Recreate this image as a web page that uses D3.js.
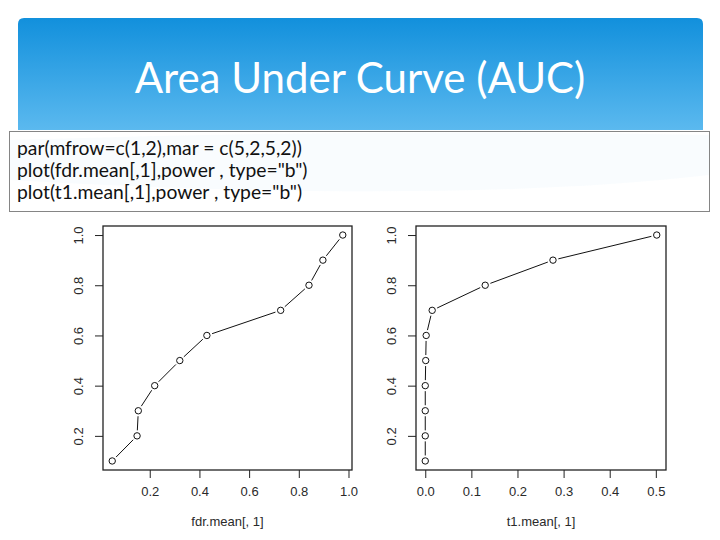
<!DOCTYPE html>
<html>
<head>
<meta charset="UTF-8">
<script src="https://d3js.org/d3.v7.min.js"></script>
<style>
  body { margin: 0; padding: 0; background: #fff; }
</style>
</head>
<body>
<script>
  // data
  const power = [0.1, 0.2, 0.3, 0.4, 0.5, 0.6, 0.7, 0.8, 0.9, 1.0]
  const fdrMean = [0.049, 0.149, 0.154, 0.220, 0.321, 0.430, 0.727, 0.841, 0.897, 0.977]
  const t1Mean = [0.000, 0.000, 0.000, 0.000, 0.001, 0.002, 0.015, 0.130, 0.277, 0.502]
  const yTicks = [0.2, 0.4, 0.6, 0.8, 1.0]
  const fdrTicks = [0.2, 0.4, 0.6, 0.8, 1.0]
  const t1Ticks = [0.0, 0.1, 0.2, 0.3, 0.4, 0.5]
  const codeLines = [
    'par(mfrow=c(1,2),mar = c(5,2,5,2))',
    'plot(fdr.mean[,1],power , type="b")',
    'plot(t1.mean[,1],power , type="b")'
  ]

  const width = 720
  const height = 540

  const svg = d3.select("body").append("svg")
    .attr("width", width)
    .attr("height", height)

  const defs = svg.append("defs")
  const grad = defs.append("linearGradient")
    .attr("id", "banner")
    .attr("x1", 0).attr("y1", 0).attr("x2", 0).attr("y2", 1)
  grad.append("stop").attr("offset", "0%").attr("stop-color", "#1290dc")
  grad.append("stop").attr("offset", "100%").attr("stop-color", "#5bb9ef")

  // title banner
  svg.append("path")
    .attr("d", "M18,130 L18,24 Q18,18 24,18 L697,18 Q703,18 703,24 L703,130 Z")
    .attr("fill", "url(#banner)")

  svg.append("text")
    .attr("x", 360)
    .attr("y", 93)
    .attr("text-anchor", "middle")
    .attr("font-family", "Lato, 'Open Sans', sans-serif")
    .attr("font-size", 42)
    .attr("fill", "#fff")
    .text("Area Under Curve (AUC)")

  // code box
  svg.append("rect")
    .attr("x", 9.5).attr("y", 131.5)
    .attr("width", 700).attr("height", 80)
    .attr("fill", "#fff")
    .attr("stroke", "#858585")
    .attr("stroke-width", 1)

  svg.append("path")
    .attr("d", "M10,140 Q360,128 709,135 L709,175 Q450,205 10,180 Z")
    .attr("fill", "#f6fbfe")
    .attr("opacity", 0.7)

  svg.selectAll(".code")
    .data(codeLines)
    .join("text")
    .attr("x", 17)
    .attr("y", (d, i) => 155 + i * 22)
    .attr("font-family", "Lato, 'Open Sans', sans-serif")
    .attr("font-size", 19.3)
    .attr("fill", "#111")
    .text(d => d)

  const yScale = d3.scaleLinear()
    .domain([0.064, 1.036])
    .range([470, 226])

  function panel(xs, ticks, left, right, label) {
    const pad = (d3.max(xs) - d3.min(xs)) * 0.04
    const x = d3.scaleLinear()
      .domain([d3.min(xs) - pad, d3.max(xs) + pad])
      .range([left, right])
    const g = svg.append("g")

    // bottom axis
    const ax = g.append("g")
      .attr("transform", "translate(0,470)")
      .call(d3.axisBottom(x).tickValues(ticks).tickFormat(d3.format(".1f"))
        .tickSize(8).tickPadding(9))
    ax.select(".domain").remove()
    ax.selectAll("line").attr("stroke", "#222")
    ax.selectAll("text")
      .attr("font-family", "'Liberation Sans', Arial, sans-serif")
      .attr("font-size", 13)
      .attr("fill", "#2a2a2a")

    // left axis, labels rotated like R
    const ay = g.append("g")
      .attr("transform", `translate(${left},0)`)
      .call(d3.axisLeft(yScale).tickValues(yTicks).tickFormat(d3.format(".1f"))
        .tickSize(8))
    ay.select(".domain").remove()
    ay.selectAll("line").attr("stroke", "#222")
    ay.selectAll("text")
      .attr("x", null).attr("dy", null)
      .attr("text-anchor", "middle")
      .attr("transform", "translate(-20,0) rotate(-90)")
      .attr("font-family", "'Liberation Sans', Arial, sans-serif")
      .attr("font-size", 13)
      .attr("fill", "#2a2a2a")

    // plot box
    g.append("rect")
      .attr("x", left).attr("y", 226)
      .attr("width", right - left).attr("height", 244)
      .attr("fill", "none")
      .attr("stroke", "#222")
      .attr("stroke-width", 1.3)

    const pts = xs.map((v, i) => [x(v), yScale(power[i])])

    // type = "b": segments with gaps at the points
    const gap = 5.5
    const segs = []
    for (let i = 0; i < pts.length - 1; i++) {
      const [x1, y1] = pts[i]
      const [x2, y2] = pts[i + 1]
      const len = Math.hypot(x2 - x1, y2 - y1)
      if (len > gap * 2 + 1) {
        const ux = (x2 - x1) / len, uy = (y2 - y1) / len
        segs.push([x1 + ux * gap, y1 + uy * gap, x2 - ux * gap, y2 - uy * gap])
      }
    }
    g.selectAll(".seg")
      .data(segs)
      .join("line")
      .attr("x1", d => d[0]).attr("y1", d => d[1])
      .attr("x2", d => d[2]).attr("y2", d => d[3])
      .attr("stroke", "#111")
      .attr("stroke-width", 1)

    g.selectAll(".pt")
      .data(pts)
      .join("circle")
      .attr("cx", d => d[0])
      .attr("cy", d => d[1])
      .attr("r", 3.2)
      .attr("fill", "none")
      .attr("stroke", "#111")
      .attr("stroke-width", 1)

    g.append("text")
      .attr("x", (left + right) / 2)
      .attr("y", 526)
      .attr("text-anchor", "middle")
      .attr("font-family", "'Liberation Sans', Arial, sans-serif")
      .attr("font-size", 13)
      .attr("fill", "#2a2a2a")
      .text(label)
  }

  panel(fdrMean, fdrTicks, 103, 352, "fdr.mean[, 1]")
  panel(t1Mean, t1Ticks, 416, 666, "t1.mean[, 1]")
</script>
</body>
</html>
